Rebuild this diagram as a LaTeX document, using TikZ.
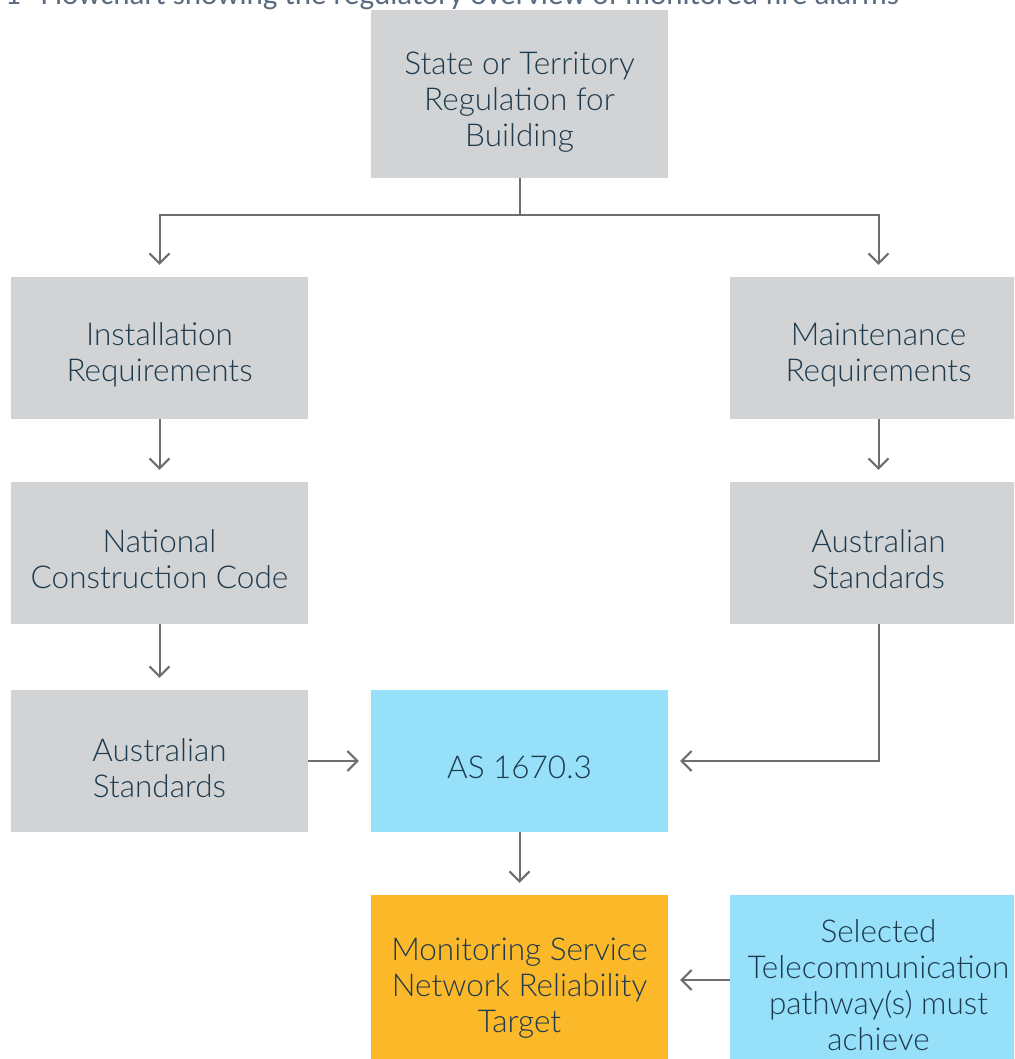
\documentclass[tikz,border=0pt]{standalone}
\usepackage{fontspec}
\setmainfont{Lato Light}
\newfontfamily\titlefont{Carlito}
\usetikzlibrary{arrows.meta}
\definecolor{boxgray}{HTML}{D1D3D4}
\definecolor{boxblue}{HTML}{96E1F9}
\definecolor{boxorange}{HTML}{FBB829}
\definecolor{txt}{HTML}{1D3A4E}
\definecolor{linegray}{HTML}{6D6E71}
\definecolor{titlecol}{HTML}{5B6B82}
\tikzset{
  box/.style={rectangle, inner sep=0pt, minimum width=297pt, minimum height=142pt},
  gbox/.style={box, fill=boxgray},
  bbox/.style={box, fill=boxblue},
  obox/.style={box, fill=boxorange},
  lbl/.style={inner sep=0pt, align=center, text=txt, font=\fontsize{31.5}{36}\selectfont},
  arr/.style={draw=linegray, line width=2pt, -{Straight Barb[length=10pt,width=20pt]}, shorten >=12pt}
}
\begin{document}
\begin{tikzpicture}[x=1pt,y=-1pt]
\useasboundingbox (0,0) rectangle (1014,1059);
\clip (0,0) rectangle (1014,1059);
\node[anchor=base west, text=titlecol, font=\titlefont\fontsize{31}{36}\selectfont, inner sep=0pt] (title) at (5,4.5) {1\hspace{20pt}Flowchart showing the regulatory overview of monitored fire alarms};
\node[gbox, minimum height=168pt] (top) at (519.5,94) {};
\node[lbl] (topT) at ([yshift=-8pt]top.center) {State or Territory\\Regulation for\\Building};
\node[gbox] (inst) at (159.5,348) {};
\node[lbl] (instT) at ([yshift=-7pt]inst.center) {Installation\\Requirements};
\node[gbox] (maint) at (878.5,348) {};
\node[lbl] (maintT) at ([yshift=-7pt]maint.center) {Maintenance\\Requirements};
\node[gbox] (ncc) at (159.5,553) {};
\node[lbl] (nccT) at ([yshift=-6pt]ncc.center) {National\\Construction Code};
\node[gbox] (ausR) at (878.5,553) {};
\node[lbl] (ausRT) at ([yshift=-6pt]ausR.center) {Australian\\Standards};
\node[gbox] (ausL) at (159.5,761) {};
\node[lbl] (ausLT) at ([yshift=-7pt]ausL.center) {Australian\\Standards};
\node[bbox] (as) at (519.5,761) {};
\node[lbl] (asT) at ([yshift=-6pt]as.center) {AS 1670.3};
\node[obox, minimum height=180pt] (mon) at (519.5,985) {};
\node[lbl] (monT) at ([yshift=-3pt]mon.center) {Monitoring Service\\Network Reliability\\Target};
\node[bbox, minimum height=180pt] (sel) at (878.5,985) {};
\node[lbl] (selT) at (sel.center) {Selected\\Telecommunication\\pathway(s) must\\achieve};
\coordinate (j) at (519.5,215);
\draw[arr] (top.south) -- (j) -| (inst.north);
\draw[arr] (j) -| (maint.north);
\draw[arr] (inst.south) -- (ncc.north);
\draw[arr] (maint.south) -- (ausR.north);
\draw[arr] (ncc.south) -- (ausL.north);
\draw[arr] (ausL.east) -- (as.west);
\draw[arr] (ausR.south) |- (as.east);
\draw[arr] (as.south) -- (mon.north);
\draw[arr] ([yshift=5pt]sel.west) -- ([yshift=5pt]mon.east);
\end{tikzpicture}
\end{document}
